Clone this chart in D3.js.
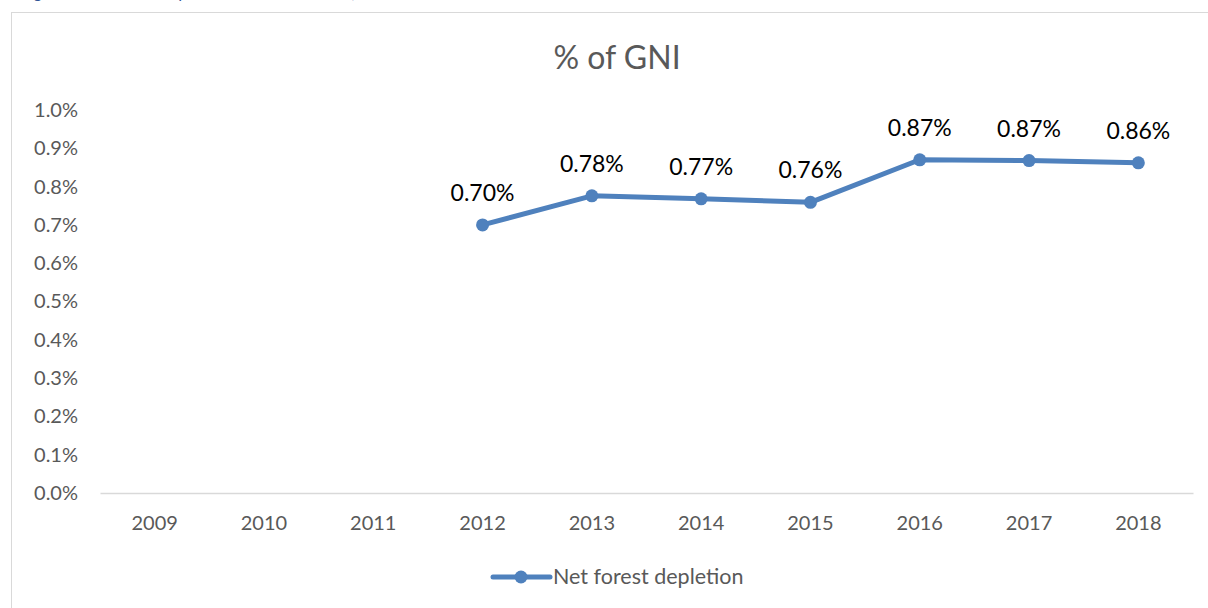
<!DOCTYPE html>
<html><head><meta charset="utf-8">
<script src="https://cdn.jsdelivr.net/npm/d3@7"></script>
<style>html,body{margin:0;padding:0;background:#fff;overflow:hidden}svg{display:block}</style>
</head><body>
<svg id="c" width="1208" height="608"></svg>
<script>
const years = ["2009","2010","2011","2012","2013","2014","2015","2016","2017","2018"];
const depletion = [null,null,null,0.700,0.776,0.768,0.759,0.870,0.868,0.862];
const yTicks = [0,0.1,0.2,0.3,0.4,0.5,0.6,0.7,0.8,0.9,1.0];
const chartTitle = "% of GNI";
const seriesName = "Net forest depletion";
const caption = "Figure 8: Net forest depletion as a share of GNI, 2009–18";

const svg = d3.select("#c");
const font = "Lato, 'Open Sans', sans-serif";
const blue = "#4f81bd";

// caption cut off at top (as in the reference)
svg.append("text").attr("x", 22).attr("y", -2).attr("font-family", font)
  .attr("font-style","italic").attr("font-size", 17).attr("fill","#2f5597").text(caption);

// chart area border
svg.append("rect").attr("x", 11.5).attr("y", 12.5).attr("width", 1210).attr("height", 620)
  .attr("fill","#fff").attr("stroke","#d9d9d9").attr("stroke-width",1);

const x = d3.scaleBand().domain(years).range([100,1193]);
const y = d3.scaleLinear().domain([0,1]).range([493,110]);

svg.append("text").attr("x", 617).attr("y", 69).attr("text-anchor","middle")
  .attr("font-family", font).attr("font-size", 32).attr("fill","#595959").text(chartTitle);

// y axis
const ya = svg.append("g").attr("transform","translate(100,0)")
  .call(d3.axisLeft(y).tickValues(yTicks).tickFormat(d => d.toFixed(1) + "%").tickSize(0).tickPadding(22));
ya.select(".domain").remove();
ya.selectAll("text").attr("font-family", font).attr("font-size", 20).attr("fill","#595959");

// x axis
const xa = svg.append("g").attr("transform","translate(0,493)")
  .call(d3.axisBottom(x).tickSize(0).tickPadding(23));
xa.select(".domain").attr("stroke","#d9d9d9").attr("stroke-width",1.5);
xa.selectAll("text").attr("font-family", font).attr("font-size", 20).attr("fill","#595959");

const pts = years.map((yr,i)=>({yr, v: depletion[i]})).filter(d=>d.v!==null);
const cx = d => x(d.yr) + x.bandwidth()/2;

svg.append("path").datum(pts).attr("fill","none").attr("stroke",blue).attr("stroke-width",5)
  .attr("stroke-linejoin","round")
  .attr("d", d3.line().x(cx).y(d=>y(d.v)));

svg.selectAll("circle.pt").data(pts).join("circle").attr("class","pt")
  .attr("cx", cx).attr("cy", d=>y(d.v)).attr("r", 6.5).attr("fill", blue);

svg.selectAll("text.lbl").data(pts).join("text").attr("class","lbl")
  .attr("x", cx).attr("y", d=>y(d.v)-24).attr("text-anchor","middle")
  .attr("font-family", font).attr("font-size", 23).attr("fill","#000")
  .text(d => d.v.toFixed(2) + "%");

// legend
const lg = svg.append("g");
lg.append("line").attr("x1",493).attr("x2",550).attr("y1",577).attr("y2",577)
  .attr("stroke",blue).attr("stroke-width",5).attr("stroke-linecap","round");
lg.append("circle").attr("cx",521).attr("cy",577).attr("r",6.5).attr("fill",blue);
lg.append("text").attr("x",553).attr("y",584).attr("font-family",font).attr("font-size",21.5)
  .attr("fill","#595959").text(seriesName);
</script>
</body></html>
